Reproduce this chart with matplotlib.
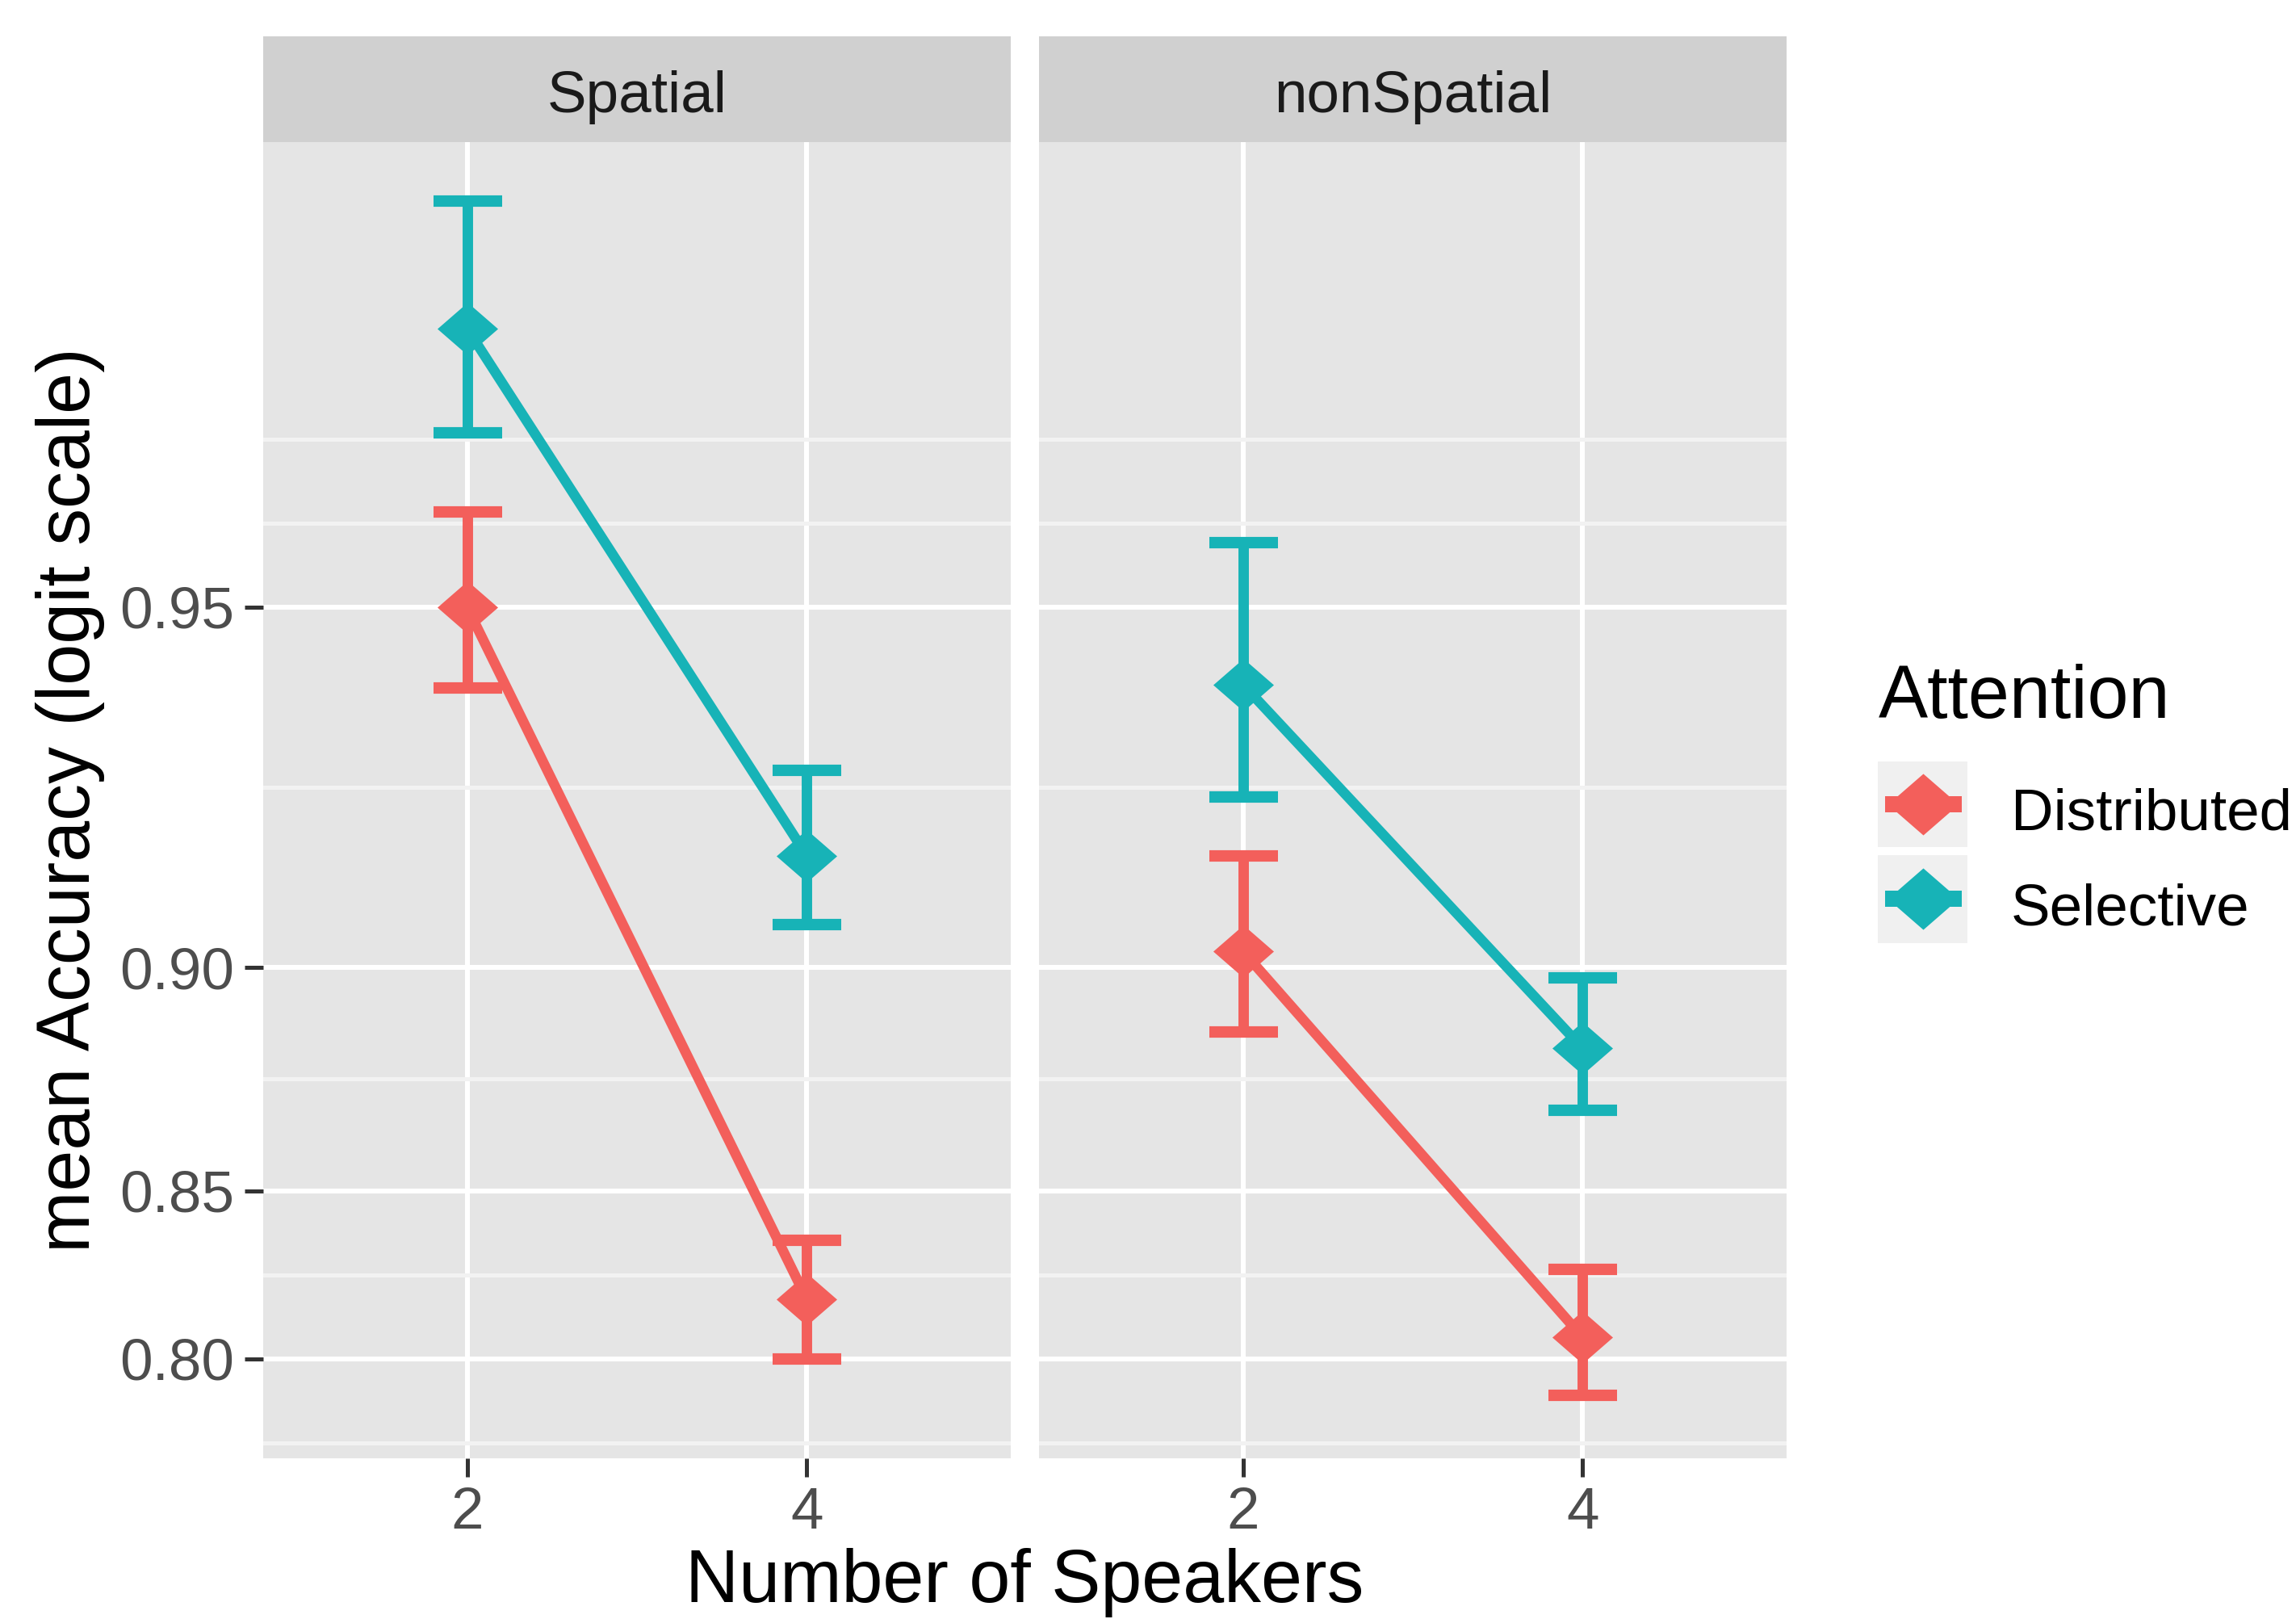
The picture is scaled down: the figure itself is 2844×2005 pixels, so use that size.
import matplotlib
matplotlib.use("Agg")
import matplotlib.pyplot as plt
import numpy as np
from matplotlib.lines import Line2D
from matplotlib.patches import Rectangle
from matplotlib.path import Path
from matplotlib.ticker import NullFormatter

plt.rcParams["font.family"] = ["Liberation Sans", "DejaVu Sans"]

# data (mean accuracy with error bar ends)
speakers = ["2", "4"]
panels = ["Spatial", "nonSpatial"]
groups = ["Distributed", "Selective"]

spatial_dist_mean = [0.950, 0.819]
spatial_dist_lo = [0.9414, 0.800]
spatial_dist_hi = [0.9586, 0.8364]
spatial_sel_mean = [0.9713, 0.919]
spatial_sel_lo = [0.9646, 0.9077]
spatial_sel_hi = [0.9778, 0.9312]

nonspatial_dist_mean = [0.903, 0.807]
nonspatial_dist_lo = [0.8874, 0.7875]
nonspatial_dist_hi = [0.919, 0.828]
nonspatial_sel_mean = [0.9418, 0.8839]
nonspatial_sel_lo = [0.9276, 0.870]
nonspatial_sel_hi = [0.956, 0.898]

y_ticks = [0.80, 0.85, 0.90, 0.95]
y_labels = ["0.80", "0.85", "0.90", "0.95"]

colors = {"Distributed": "#F35F5B", "Selective": "#17B3B7"}

data = {
    "Spatial": {
        "Distributed": (spatial_dist_mean, spatial_dist_lo, spatial_dist_hi),
        "Selective": (spatial_sel_mean, spatial_sel_lo, spatial_sel_hi),
    },
    "nonSpatial": {
        "Distributed": (nonspatial_dist_mean, nonspatial_dist_lo, nonspatial_dist_hi),
        "Selective": (nonspatial_sel_mean, nonspatial_sel_lo, nonspatial_sel_hi),
    },
}


def logit(p):
    p = np.asarray(p, dtype=float)
    return np.log(p / (1 - p))


def expit(z):
    return 1 / (1 + np.exp(-np.asarray(z, dtype=float)))


# ggplot-like minor breaks: midpoints of the majors in logit space (+ one step beyond)
b = logit(y_ticks)
step = b[1] - b[0]
ext = np.concatenate([[b[0] - step], b, [b[-1] + step]])
mids = (ext[:-1] + ext[1:]) / 2
minor_z = np.concatenate([mids, [ext[-1]]])
y_lim = (expit(1.180), expit(3.908))
minor_p = [p for p in expit(minor_z) if y_lim[0] < p < y_lim[1]]

diamond = Path([(0, 1), (1.15, 0), (0, -1), (-1.15, 0), (0, 1)],
               [Path.MOVETO, Path.LINETO, Path.LINETO, Path.LINETO, Path.CLOSEPOLY])

W, H = 2844, 2005
fig = plt.figure(figsize=(9.48, 6.6834), dpi=300)

panel_x = [326, 1287]
panel_w = 926
panel_top, panel_bot = 176, 1806
strip_top = 45
small = 17.5
big = 22

x_pos = np.arange(len(speakers))

for i, name in enumerate(panels):
    left = panel_x[i] / W
    ax = fig.add_axes([left, 1 - panel_bot / H, panel_w / W, (panel_bot - panel_top) / H])
    ax.set_facecolor("#E5E5E5")
    ax.set_yscale("logit")
    ax.set_ylim(*y_lim)
    ax.set_xlim(-0.6, len(speakers) - 0.4)
    ax.set_yticks(y_ticks, labels=y_labels)
    ax.set_yticks(minor_p, minor=True)
    ax.yaxis.set_minor_formatter(NullFormatter())
    ax.set_xticks(x_pos, labels=speakers)
    ax.set_axisbelow(True)
    ax.grid(which="major", axis="both", color="white", lw=1.45)
    ax.grid(which="minor", axis="y", color="#F2F2F2", lw=1.2)
    for s in ax.spines.values():
        s.set_visible(False)
    ax.tick_params(which="major", length=5.5, width=1.2, color="#333333",
                   labelsize=small, labelcolor="#4D4D4D", pad=3)
    ax.tick_params(which="minor", length=0)
    if i > 0:
        ax.tick_params(axis="y", left=False, labelleft=False)

    for g in groups:
        mean, lo, hi = (np.array(v) for v in data[name][g])
        c = colors[g]
        ax.plot(x_pos, mean, color=c, lw=3.0, solid_capstyle="butt", zorder=3)
        ax.errorbar(x_pos, mean, yerr=[mean - lo, hi - mean], fmt="none", ecolor=c,
                    elinewidth=3.1, capsize=10.2, capthick=3.4, zorder=3)
        ax.plot(x_pos, mean, ls="none", marker=diamond, markersize=18,
                color=c, markeredgewidth=0, zorder=4)

    # facet strip
    sax = fig.add_axes([left, 1 - panel_top / H, panel_w / W, (panel_top - strip_top) / H])
    sax.set_facecolor("#D0D0D0")
    sax.set_xticks([])
    sax.set_yticks([])
    for s in sax.spines.values():
        s.set_visible(False)
    fig.text(left + panel_w / 2 / W, 1 - 139 / H, name, ha="center", va="baseline",
             fontsize=small, color="#1A1A1A")

fig.text(87 / W, 1 - (panel_top + panel_bot) / 2 / H, "mean Accuracy (logit scale)",
         rotation=90, ha="center", va="center", fontsize=big)
fig.text((panel_x[0] + panel_x[1] + panel_w) / 2 / W, 1 - 1984 / H, "Number of Speakers",
         ha="center", va="baseline", fontsize=big)

# legend, laid out like ggplot's guide box
fig.text(2327 / W, 1 - 889 / H, "Attention", ha="left", va="baseline", fontsize=big)
key_x0, key_x1 = 2326, 2437
key_rows = [(943, 1049, 1027), (1059, 1168, 1145)]
for g, (top, bot, base) in zip(groups, key_rows):
    fig.add_artist(Rectangle((key_x0 / W, 1 - bot / H), (key_x1 - key_x0) / W, (bot - top) / H,
                             transform=fig.transFigure, facecolor="#F0F0F0", edgecolor="none"))
    yc = 1 - (top + bot) / 2 / H
    fig.add_artist(Line2D([2335 / W, 2430 / W], [yc, yc], transform=fig.transFigure,
                          color=colors[g], lw=4.8, solid_capstyle="butt"))
    fig.add_artist(Line2D([(key_x0 + key_x1) / 2 / W], [yc], transform=fig.transFigure,
                          ls="none", marker=diamond, markersize=21, markeredgewidth=0,
                          color=colors[g]))
    fig.text(2491 / W, 1 - base / H, g, ha="left", va="baseline", fontsize=small)

fig.savefig("out.png", dpi=300)
